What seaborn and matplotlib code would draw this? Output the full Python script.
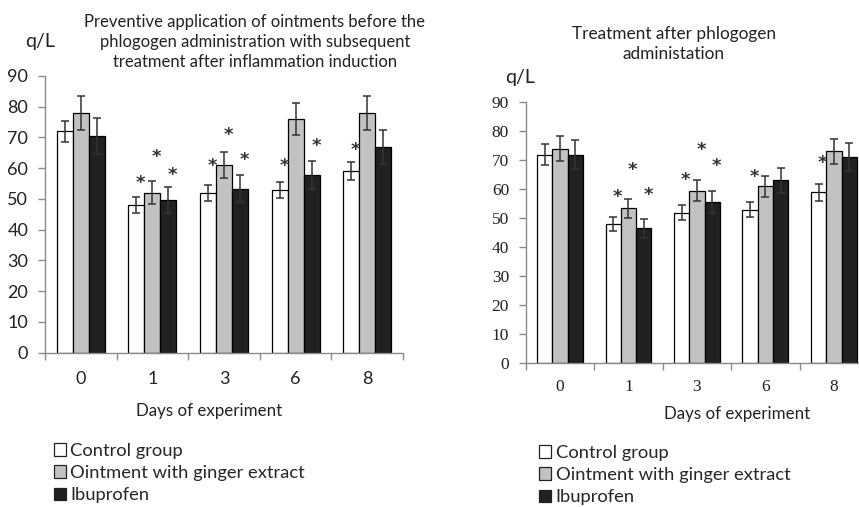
import pandas as pd
import matplotlib.pyplot as plt
import seaborn as sns
from matplotlib.patches import Patch

# Data
days = ["0", "1", "3", "6", "8"]
groups = ["Control group", "Ointment with ginger extract", "Ibuprofen"]
colors = ["#ffffff", "#c2c2c2", "#231f20"]

# left panel: preventive application
left_control = [72, 48, 52, 53, 59]
left_ointment = [78, 52, 61, 76, 78]
left_ibuprofen = [70.4, 49.8, 53.4, 57.8, 66.8]
left_control_err = [3.5, 2.5, 2.6, 2.6, 2.9]
left_ointment_err = [5.5, 3.7, 4.2, 5.2, 5.5]
left_ibuprofen_err = [5.8, 4.2, 4.4, 4.7, 5.5]
left_control_star = [None, 55.3, 60.6, 60.6, 66.0]
left_ointment_star = [None, 63.8, 70.9, None, None]
left_ibuprofen_star = [None, 57.9, 62.8, 67.1, None]

# right panel: treatment after phlogogen
right_control = [72, 48, 52, 53, 59]
right_ointment = [74, 53.5, 59.5, 61, 73.1]
right_ibuprofen = [72, 46.5, 55.5, 63.1, 71.1]
right_control_err = [3.5, 2.5, 2.6, 2.6, 2.9]
right_ointment_err = [4.4, 3.3, 3.6, 3.6, 4.2]
right_ibuprofen_err = [5.0, 3.2, 3.8, 4.3, 4.9]
right_control_star = [None, 57.2, 63.2, 64.1, 69.0]
right_ointment_star = [None, 66.7, 73.5, None, None]
right_ibuprofen_star = [None, 58.0, 68.0, None, None]

sns.set_style("white")
plt.rcParams["font.family"] = ["Lato", "DejaVu Sans"]

fig = plt.figure(figsize=(8.59, 5.07), dpi=100)
ax1 = fig.add_axes([0.0524, 0.3043, 0.4168, 0.5458])
ax2 = fig.add_axes([0.612, 0.2834, 0.3987, 0.5148])


def draw_panel(ax, values, errs, stars, tick_font, tick_size, xpad):
    df = pd.DataFrame({
        "day": days * 3,
        "group": [g for g in groups for _ in days],
        "value": values[0] + values[1] + values[2],
    })
    sns.barplot(data=df, x="day", y="value", hue="group", order=days,
                hue_order=groups, palette=colors, width=0.67,
                edgecolor="black", linewidth=0.9, errorbar=None,
                legend=False, ax=ax)
    bar_conts = list(ax.containers)
    for i, cont in enumerate(bar_conts):
        for j, bar in enumerate(cont):
            xc = bar.get_x() + bar.get_width() / 2
            ax.errorbar(xc, bar.get_height(), yerr=errs[i][j], fmt="none",
                        ecolor="#333333", elinewidth=1.1, capsize=3,
                        capthick=1.1)
            if stars[i][j] is not None:
                ax.text(xc + 0.06, stars[i][j], "*", ha="center",
                        va="center", fontsize=13, fontweight="bold",
                        color="#333333", family="DejaVu Sans")
    ax.set_xlim(-0.5, 4.5)
    ax.set_ylim(0, 90)
    ax.set_yticks(range(0, 91, 10))
    ax.set_xticks([x - 0.5 for x in range(6)], minor=True)
    ax.tick_params(axis="x", which="major", length=0, pad=xpad)
    ax.tick_params(axis="x", which="minor", length=5, color="#8a8a8a",
                   width=1, direction="out", bottom=True)
    ax.tick_params(axis="y", length=5, color="#8a8a8a", width=1,
                   direction="out", left=True, pad=7)
    for lab in ax.get_xticklabels() + ax.get_yticklabels():
        lab.set_family(tick_font)
        lab.set_fontsize(tick_size)
        lab.set_color("#222222")
    sns.despine(ax=ax)
    for side in ["left", "bottom"]:
        ax.spines[side].set_color("#8a8a8a")
        ax.spines[side].set_linewidth(1)
    ax.set_xlabel("")
    ax.set_ylabel("")


draw_panel(ax1,
           [left_control, left_ointment, left_ibuprofen],
           [left_control_err, left_ointment_err, left_ibuprofen_err],
           [left_control_star, left_ointment_star, left_ibuprofen_star],
           ["Lato", "DejaVu Sans"], 13, 13)
draw_panel(ax2,
           [right_control, right_ointment, right_ibuprofen],
           [right_control_err, right_ointment_err, right_ibuprofen_err],
           [right_control_star, right_ointment_star, right_ibuprofen_star],
           ["Liberation Serif", "DejaVu Serif"], 12.5, 11)

# titles and labels
fig.text(255 / 859, 1 - 42 / 507,
         "Preventive application of ointments before the\n"
         "phlogogen administration with subsequent\n"
         "treatment after inflammation induction",
         ha="center", va="center", fontsize=12, linespacing=1.3,
         color="#222222")
fig.text(674 / 859, 1 - 44 / 507, "Treatment after phlogogen\nadministation",
         ha="center", va="center", fontsize=12.4, linespacing=1.35,
         color="#222222")
fig.text(40 / 859, 1 - 42 / 507, "q/L", ha="center", va="center",
         fontsize=14, color="#222222")
fig.text(520 / 859, 1 - 78 / 507, "q/L", ha="center", va="center",
         fontsize=14, color="#222222")
fig.text(209 / 859, 1 - 411 / 507, "Days of experiment", ha="center",
         va="center", fontsize=12.2, color="#222222")
fig.text(737 / 859, 1 - 414 / 507, "Days of experiment", ha="center",
         va="center", fontsize=12.2, color="#222222")

handles = [Patch(facecolor=c, edgecolor="#222222", linewidth=0.9)
           for c in colors]
for x0, y0 in [(54 / 859, 1 - 443 / 507), (539 / 859, 1 - 445 / 507)]:
    fig.legend(handles, groups, loc="upper left", bbox_to_anchor=(x0, y0),
               frameon=False, fontsize=13.2, handlelength=0.65,
               handleheight=0.65, handletextpad=0.25, labelspacing=0.33,
               borderpad=0, borderaxespad=0)

fig.savefig("out.png", dpi=100)
